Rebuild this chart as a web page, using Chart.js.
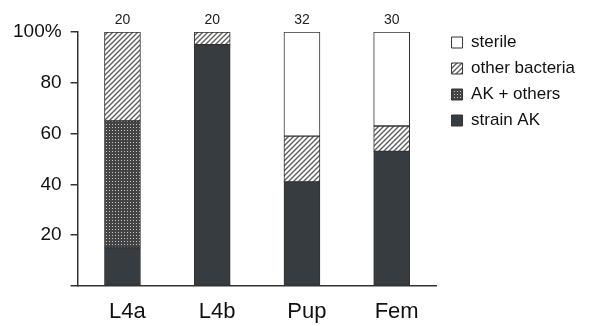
<!DOCTYPE html>
<html>
<head>
<meta charset="utf-8">
<script src="https://cdn.jsdelivr.net/npm/chart.js@4"></script>
<style>
  html, body { margin: 0; padding: 0; background: #fff; }
  #wrap { width: 589px; height: 326px; }
</style>
</head>
<body>
<div id="wrap"><canvas id="chart" width="589" height="326"></canvas></div>
<script>
// data (percent of individuals)
const categories = ['L4a', 'L4b', 'Pup', 'Fem'];
const strainAK = [15, 95, 41, 53];
const akOthers = [50, 0, 0, 0];
const otherBacteria = [35, 5, 18, 10];
const sterile = [0, 0, 41, 37];
const sampleSizes = [20, 20, 32, 30];
const yTickValues = [0, 20, 40, 60, 80, 100];

const FONT = "'Liberation Sans', Arial, sans-serif";

function hatchPattern() {
  const c = document.createElement('canvas');
  c.width = 5; c.height = 5;
  const g = c.getContext('2d');
  g.fillStyle = '#fff';
  g.fillRect(0, 0, 5, 5);
  g.strokeStyle = '#5e5e5e';
  g.lineWidth = 1.4;
  g.beginPath();
  g.moveTo(-1, 6); g.lineTo(6, -1);
  g.moveTo(-1, 1); g.lineTo(1, -1);
  g.moveTo(4, 6); g.lineTo(6, 4);
  g.stroke();
  return g.createPattern(c, 'repeat');
}

function dotPattern() {
  const c = document.createElement('canvas');
  c.width = 3; c.height = 3;
  const g = c.getContext('2d');
  g.fillStyle = '#444';
  g.fillRect(0, 0, 3, 3);
  g.fillStyle = '#c4c4c4';
  g.fillRect(1, 1, 1, 1);
  return g.createPattern(c, 'repeat');
}

// n above each bar
const countLabels = {
  id: 'countLabels',
  afterDatasetsDraw(chart) {
    const ctx = chart.ctx;
    const meta = chart.getDatasetMeta(0);
    const top = chart.scales.y.getPixelForValue(100);
    ctx.save();
    ctx.font = '14px ' + FONT;
    ctx.fillStyle = '#222';
    ctx.textAlign = 'center';
    ctx.textBaseline = 'bottom';
    sampleSizes.forEach((n, i) => {
      ctx.fillText(String(n), meta.data[i].x, top - 5);
    });
    ctx.restore();
  }
};

// move the legend block a little right and up, like the original figure
const legendNudge = {
  id: 'legendNudge',
  afterLayout(chart) {
    const l = chart.legend;
    l.left += 6; l.right += 6;
    l.top -= 7; l.bottom -= 7;
  }
};

const common = { borderColor: '#333', borderWidth: 1, borderSkipped: false, barThickness: 36 };

new Chart(document.getElementById('chart').getContext('2d'), {
  type: 'bar',
  data: {
    labels: categories,
    datasets: [
      { label: 'strain AK', data: strainAK, backgroundColor: '#363c3f', ...common },
      { label: 'AK + others', data: akOthers, backgroundColor: dotPattern(), ...common },
      { label: 'other bacteria', data: otherBacteria, backgroundColor: hatchPattern(), ...common },
      { label: 'sterile', data: sterile, backgroundColor: '#fff', ...common }
    ]
  },
  options: {
    responsive: false,
    animation: false,
    layout: { padding: { top: 32, left: 4, right: 10, bottom: 0 } },
    plugins: {
      legend: {
        position: 'right',
        align: 'start',
        reverse: true,
        labels: {
          boxWidth: 11,
          boxHeight: 11,
          padding: 9,
          color: '#111',
          font: { family: FONT, size: 17 }
        }
      },
      tooltip: { enabled: false }
    },
    scales: {
      x: {
        stacked: true,
        afterFit: axis => { axis.height = 40; },
        grid: { display: false, drawTicks: false },
        border: { color: '#333', width: 1.5 },
        ticks: { color: '#111', padding: 13, labelOffset: 5, font: { family: FONT, size: 22 } }
      },
      y: {
        stacked: true,
        min: 0,
        max: 100,
        afterBuildTicks: axis => { axis.ticks = yTickValues.map(v => ({ value: v })); },
        grid: { drawOnChartArea: false, drawTicks: true, tickLength: 7, color: '#333', lineWidth: 1.5 },
        border: { color: '#333', width: 1.5 },
        ticks: {
          color: '#111',
          padding: 9,
          font: { family: FONT, size: 19 },
          callback: v => v === 0 ? '' : (v === 100 ? '100%' : String(v))
        }
      }
    }
  },
  plugins: [countLabels, legendNudge]
});
</script>
</body>
</html>
